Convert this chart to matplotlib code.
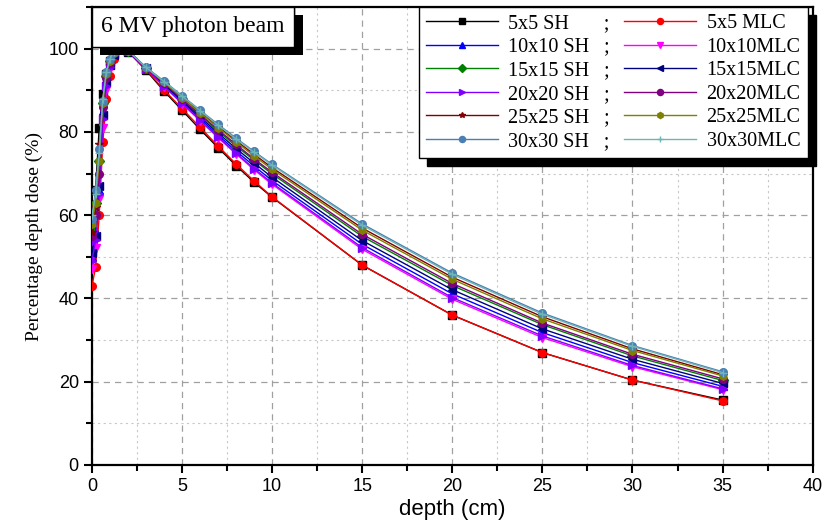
import numpy as np
import matplotlib
matplotlib.use("Agg")
import matplotlib.pyplot as plt
from matplotlib.offsetbox import AnchoredText
from matplotlib import patheffects
from matplotlib.ticker import MultipleLocator

plt.rcParams["font.family"] = ["Liberation Sans", "DejaVu Sans"]

# depth (cm)
depth = [0, 0.2, 0.4, 0.6, 0.8, 1.0, 1.2, 1.5, 2.0,
         3, 4, 5, 6, 7, 8, 9, 10, 15, 20, 25, 30, 35]

# percentage depth dose (%)
sh5 = [52.0, 66.0, 81.0, 89.0, 94.0, 97.0, 99.0, 100.0, 99.3,
       94.8, 89.8, 85.2, 80.6, 76.2, 71.9, 67.9, 64.3, 48.0, 36.0, 27.0, 20.4, 15.6]
mlc5 = [43.0, 47.5, 60.0, 77.5, 88.0, 93.5, 97.5, 99.8, 99.4,
        95.0, 90.1, 85.6, 81.1, 76.6, 72.3, 68.2, 64.4, 48.0, 36.0, 27.0, 20.4, 15.4]
sh10 = [50.0, 56.0, 66.0, 85.0, 92.0, 96.0, 98.8, 100.0, 99.4,
        95.3, 91.2, 87.2, 83.2, 79.2, 75.4, 71.8, 68.3, 53.0, 41.1, 31.8, 24.6, 18.9]
mlc10 = [47.0, 52.0, 64.0, 81.0, 90.0, 95.0, 98.0, 100.0, 99.4,
         95.2, 90.9, 86.8, 82.7, 78.6, 74.7, 70.9, 67.4, 51.8, 39.8, 30.6, 23.6, 18.1]
sh15 = [57.0, 63.0, 73.0, 87.0, 93.5, 97.0, 99.0, 100.0, 99.5,
        95.4, 91.6, 87.8, 84.0, 80.2, 76.6, 73.2, 69.9, 54.9, 43.1, 33.7, 26.2, 20.3]
mlc15 = [51.0, 55.0, 67.0, 84.0, 92.0, 96.0, 98.5, 100.0, 99.4,
         95.3, 91.4, 87.5, 83.6, 79.7, 76.0, 72.5, 69.1, 53.9, 42.1, 32.7, 25.4, 19.6]
sh20 = [49.0, 54.0, 65.0, 83.0, 91.0, 95.5, 98.5, 100.0, 99.4,
        95.2, 91.0, 86.9, 82.8, 78.8, 74.9, 71.2, 67.7, 52.2, 40.2, 31.0, 23.9, 18.3]
mlc20 = [55.0, 60.0, 70.0, 86.0, 93.0, 96.5, 99.0, 100.0, 99.5,
         95.4, 91.7, 87.9, 84.2, 80.5, 77.0, 73.5, 70.3, 55.4, 43.6, 34.1, 26.6, 20.7]
sh25 = [56.0, 62.0, 77.0, 88.0, 94.0, 97.5, 99.2, 100.0, 99.5,
        95.5, 92.0, 88.4, 84.8, 81.3, 77.9, 74.6, 71.4, 56.9, 45.1, 35.6, 27.9, 21.7]
mlc25 = [58.0, 63.0, 73.0, 87.0, 94.0, 97.0, 99.0, 100.0, 99.5,
         95.4, 91.9, 88.2, 84.6, 81.0, 77.6, 74.2, 71.0, 56.4, 44.6, 35.1, 27.5, 21.4]
sh30 = [59.0, 66.0, 76.0, 87.5, 94.5, 97.5, 99.3, 100.0, 99.5,
        95.5, 92.2, 88.7, 85.2, 81.8, 78.5, 75.3, 72.2, 57.9, 46.1, 36.5, 28.7, 22.4]
mlc30 = [60.0, 65.0, 75.0, 88.0, 94.5, 97.5, 99.3, 100.0, 99.5,
         95.5, 92.1, 88.6, 85.1, 81.6, 78.3, 75.1, 72.0, 57.6, 45.8, 36.2, 28.5, 22.2]

labels = ["5x5 SH       ;", "5x5 MLC",
          "10x10 SH   ;", "10x10MLC",
          "15x15 SH   ;", "15x15MLC",
          "20x20 SH   ;", "20x20MLC",
          "25x25 SH   ;", "25x25MLC",
          "30x30 SH   ;", "30x30MLC"]

series = [sh5, mlc5, sh10, mlc10, sh15, mlc15, sh20, mlc20, sh25, mlc25, sh30, mlc30]
colors = ["#000000", "#ff0000", "#0000ff", "#ff00ff", "#008000", "#000080",
          "#8000ff", "#800080", "#800000", "#808000", "#4a7fb5", "#6fb5b5"]
markers = ["s", "o", "^", "v", "D", "<", ">", "o", "*", "h", "o", "+"]

fig = plt.figure(figsize=(8.25, 5.24), dpi=100)
ax = fig.add_axes([0.1115, 0.1126, 0.8735, 0.874])

lines = []
for y, c, m, lab in zip(series, colors, markers, labels):
    ln, = ax.plot(depth, y, color=c, marker=m, markersize=5.5, linewidth=1.0,
                  label=lab, zorder=3)
    lines.append(ln)

ax.set_xlim(0, 40)
ax.set_ylim(0, 110)
ax.xaxis.set_major_locator(MultipleLocator(5))
ax.xaxis.set_minor_locator(MultipleLocator(2.5))
ax.yaxis.set_major_locator(MultipleLocator(20))
ax.yaxis.set_minor_locator(MultipleLocator(10))
ax.grid(which="major", color="#a0a0a0", linestyle=(0, (5, 4)), linewidth=0.9)
ax.grid(which="minor", color="#c8c8c8", linestyle=(0, (2, 3)), linewidth=0.8)
ax.set_axisbelow(True)
ax.tick_params(which="major", direction="out", length=6, width=1.5,
               labelsize=13, top=False, right=False)
ax.tick_params(which="minor", direction="out", length=4, width=1.5,
               top=False, right=False)
for s in ax.spines.values():
    s.set_linewidth(1.6)

ax.set_xlabel("depth (cm)", fontsize=16, labelpad=3)
ax.set_ylabel("Percentage depth dose (%)", fontsize=14, family="Liberation Serif",
              labelpad=4)

# SH entries in the left column, MLC entries in the right one
order = list(range(0, 12, 2)) + list(range(1, 12, 2))
leg = ax.legend([lines[i] for i in order], [labels[i] for i in order],
                ncol=2, loc="upper right", bbox_to_anchor=(0.993, 1.0),
                borderaxespad=0, prop={"family": "Liberation Serif", "size": 14.5},
                handlelength=3.6, columnspacing=0.7, labelspacing=0.22,
                handletextpad=0.5, borderpad=0.35, fancybox=False,
                framealpha=1, edgecolor="black", markerscale=0.8,
                shadow={"ox": 6, "oy": -6, "color": "black", "alpha": 1})
leg.get_frame().set_linewidth(1.0)

at = AnchoredText("6 MV photon beam", loc="upper left", borderpad=0, pad=0.4,
                  prop={"family": "Liberation Serif", "size": 17}, frameon=True)
at.patch.set_boxstyle("square", pad=0)
at.patch.set_linewidth(1.0)
at.patch.set_path_effects([patheffects.withSimplePatchShadow(
    offset=(6, -6), shadow_rgbFace="black", alpha=1), patheffects.Normal()])
at.zorder = 5
ax.add_artist(at)

fig.savefig("out.png", dpi=100)
